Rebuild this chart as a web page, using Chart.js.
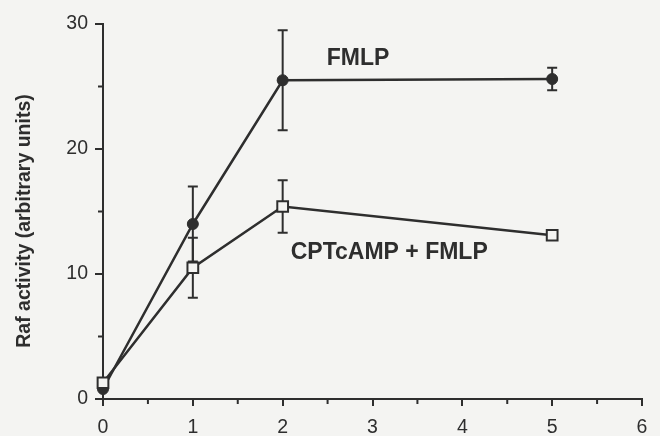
<!DOCTYPE html>
<html>
<head>
<meta charset="utf-8">
<script src="https://cdn.jsdelivr.net/npm/chart.js@4.4.1/dist/chart.umd.min.js"></script>
<style>
  html, body { margin: 0; padding: 0; background: #f4f4f2; }
  #wrap { width: 660px; height: 436px; position: relative; }
</style>
</head>
<body>
<div id="wrap"><canvas id="c" width="660" height="436"></canvas></div>
<script>
// ---- data ----
const timePoints = [0, 1, 2, 5];
const fmlpValues = [0.8, 14.0, 25.5, 25.6];
const fmlpErrors = [0, 3.0, 4.0, 0.9];
const cptValues = [1.3, 10.5, 15.4, 13.1];
const cptErrors = [0, 2.4, 2.1, 0.3];
const xTicks = [0, 1, 2, 3, 4, 5, 6];
const yTicks = [0, 10, 20, 30];
const seriesNames = ['FMLP', 'CPTcAMP + FMLP'];
const yAxisTitle = 'Raf activity (arbitrary units)';

const INK = '#2e2e2e';
const FONT = '"Liberation Sans", Arial, Helvetica, sans-serif';

const toXY = (xs, ys) => xs.map((x, i) => ({ x: x, y: ys[i] }));

// error bars + minor ticks + annotations
const extras = {
  id: 'extras',
  beforeDatasetsDraw(chart) {
    const ctx = chart.ctx;
    const xs = chart.scales.x, ys = chart.scales.y;
    ctx.save();
    ctx.strokeStyle = INK;
    ctx.lineWidth = 2;
    chart.data.datasets.forEach(ds => {
      (ds.errors || []).forEach((e, i) => {
        if (!e) return;
        const p = ds.data[i];
        const px = xs.getPixelForValue(p.x);
        const y1 = ys.getPixelForValue(p.y + e);
        const y2 = ys.getPixelForValue(p.y - e);
        ctx.beginPath();
        ctx.moveTo(px, y1); ctx.lineTo(px, y2);
        ctx.moveTo(px - 5, y1); ctx.lineTo(px + 5, y1);
        ctx.moveTo(px - 5, y2); ctx.lineTo(px + 5, y2);
        ctx.stroke();
      });
    });
    ctx.restore();
  },
  afterDraw(chart) {
    const ctx = chart.ctx;
    const xs = chart.scales.x, ys = chart.scales.y;
    ctx.save();
    ctx.strokeStyle = INK;
    ctx.lineWidth = 2;
    // minor ticks
    const yb = ys.getPixelForValue(0);
    for (let i = 0; i < xTicks.length - 1; i++) {
      const v = (xTicks[i] + xTicks[i + 1]) / 2;
      const px = xs.getPixelForValue(v);
      ctx.beginPath(); ctx.moveTo(px, yb); ctx.lineTo(px, yb + 5); ctx.stroke();
    }
    const xl = xs.getPixelForValue(0);
    for (let i = 0; i < yTicks.length - 1; i++) {
      const v = (yTicks[i] + yTicks[i + 1]) / 2;
      const py = ys.getPixelForValue(v);
      ctx.beginPath(); ctx.moveTo(xl, py); ctx.lineTo(xl - 5, py); ctx.stroke();
    }
    // series annotations
    ctx.fillStyle = INK;
    ctx.font = 'bold 23px ' + FONT;
    ctx.textBaseline = 'alphabetic';
    ctx.textAlign = 'left';
    ctx.fillText(seriesNames[0], xs.getPixelForValue(2.49), ys.getPixelForValue(26.7));
    ctx.fillText(seriesNames[1], xs.getPixelForValue(2.09), ys.getPixelForValue(11.2));
    // y axis title
    ctx.font = 'bold 19.5px ' + FONT;
    ctx.textAlign = 'center';
    ctx.textBaseline = 'middle';
    ctx.translate(25, 221);
    ctx.rotate(-Math.PI / 2);
    ctx.fillText(yAxisTitle, 0, 0);
    ctx.restore();
  }
};

new Chart(document.getElementById('c'), {
  type: 'line',
  data: {
    datasets: [
      {
        label: seriesNames[1],
        data: toXY(timePoints, cptValues),
        errors: cptErrors,
        borderColor: INK,
        borderWidth: 2.5,
        pointStyle: 'rect',
        pointRadius: 7.6,
        pointBorderWidth: 2,
        pointBackgroundColor: '#f4f4f2',
        pointBorderColor: INK,
        tension: 0,
        clip: false,
        order: 0
      },
      {
        label: seriesNames[0],
        data: toXY(timePoints, fmlpValues),
        errors: fmlpErrors,
        borderColor: INK,
        borderWidth: 2.5,
        pointStyle: 'circle',
        pointRadius: 5.5,
        pointBorderWidth: 1,
        pointBackgroundColor: INK,
        pointBorderColor: INK,
        tension: 0,
        clip: false,
        order: 1
      }
    ]
  },
  options: {
    responsive: false,
    animation: false,
    devicePixelRatio: 1,
    layout: { padding: { left: 0, top: 24, right: 18, bottom: 0 } },
    plugins: { legend: { display: false }, tooltip: { enabled: false } },
    scales: {
      x: {
        type: 'linear',
        min: 0, max: 6,
        afterBuildTicks: s => { s.ticks = xTicks.map(v => ({ value: v })); },
        afterFit: s => { s.height = 37; },
        ticks: { color: INK, font: { family: FONT, size: 19.5 }, padding: 10 },
        grid: { display: true, drawOnChartArea: false, drawTicks: true, tickLength: 7, color: INK, lineWidth: 2 },
        border: { display: true, color: INK, width: 2 }
      },
      y: {
        type: 'linear',
        min: 0, max: 30,
        afterBuildTicks: s => { s.ticks = yTicks.map(v => ({ value: v })); },
        afterFit: s => { s.width = 103; },
        ticks: { color: INK, font: { family: FONT, size: 19.5 }, padding: 7 },
        grid: { display: true, drawOnChartArea: false, drawTicks: true, tickLength: 8, color: INK, lineWidth: 2 },
        border: { display: true, color: INK, width: 2 }
      }
    }
  },
  plugins: [extras]
});
</script>
</body>
</html>
